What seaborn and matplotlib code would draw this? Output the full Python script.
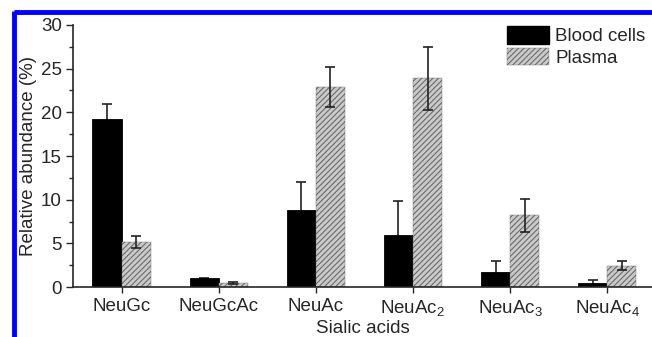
import numpy as np
import pandas as pd
import matplotlib
matplotlib.use("Agg")
import matplotlib.pyplot as plt
from matplotlib.lines import Line2D
from matplotlib.ticker import MultipleLocator
import seaborn as sns

categories = ["NeuGc", "NeuGcAc", "NeuAc", "NeuAc$_2$", "NeuAc$_3$", "NeuAc$_4$"]
blood_cells = [19.2, 1.0, 8.8, 6.0, 1.75, 0.5]
blood_cells_err = [1.8, 0.1, 3.2, 3.9, 1.2, 0.3]
plasma = [5.2, 0.5, 22.9, 23.9, 8.2, 2.45]
plasma_err = [0.7, 0.1, 2.3, 3.6, 1.9, 0.5]
groups = ["Blood cells", "Plasma"]

df = pd.DataFrame({
    "acid": categories * 2,
    "group": [groups[0]] * len(categories) + [groups[1]] * len(categories),
    "value": blood_cells + plasma,
})

sns.set_style("ticks")
plt.rcParams["font.family"] = ["Liberation Sans", "DejaVu Sans"]
plt.rcParams["mathtext.fontset"] = "custom"
plt.rcParams["mathtext.rm"] = "Liberation Sans"
plt.rcParams["mathtext.it"] = "Liberation Sans"
plt.rcParams["hatch.linewidth"] = 0.8

FS = 13.5
fill_gray = "#cacaca"
hatch_gray = "#6a6a6a"
text_color = "#262626"

fig = plt.figure(figsize=(6.52, 3.37), dpi=100)
ax = fig.add_axes([0.112, 0.148, 0.888, 0.778])

sns.barplot(data=df, x="acid", y="value", hue="group", hue_order=groups,
            order=categories, palette=["black", fill_gray], width=0.6,
            gap=0, errorbar=None, ax=ax, legend=False, linewidth=0.6,
            edgecolor="black", zorder=2)

n = len(categories)
for i, p in enumerate(ax.patches[:2 * n]):
    if i >= n:
        p.set_hatch("//////")
        p.set_edgecolor(hatch_gray)
        p.set_facecolor(fill_gray)
        p.set_linewidth(0.3)

# error bars centred on each bar; the blood-cell ones sit behind the bars
for k, (vals, errs, z) in enumerate([(blood_cells, blood_cells_err, 1),
                                     (plasma, plasma_err, 5)]):
    bars = ax.patches[k * n:(k + 1) * n]
    xs = [b.get_x() + b.get_width() / 2 for b in bars]
    ax.errorbar(xs, vals, yerr=errs, fmt="none", ecolor="#222222",
                elinewidth=1.2, capsize=3.5, capthick=1.2, zorder=z)

ax.set_ylim(0, 30)
ax.set_xlim(-0.5, 5.46)
ax.yaxis.set_major_locator(MultipleLocator(5))
ax.yaxis.set_minor_locator(MultipleLocator(2.5))
ax.tick_params(axis="y", which="major", length=5, width=1, colors=text_color,
               labelsize=FS, direction="out", pad=3)
ax.tick_params(axis="y", which="minor", length=3, width=1, color=text_color)
ax.tick_params(axis="x", length=4, width=1, colors=text_color, labelsize=FS,
               pad=4)
for side in ["top", "right"]:
    ax.spines[side].set_visible(False)
for side in ["left", "bottom"]:
    ax.spines[side].set_linewidth(1.2)
    ax.spines[side].set_color(text_color)

ax.set_xlabel("Sialic acids", fontsize=FS, color=text_color, labelpad=1.5)
ax.set_ylabel("Relative abundance (%)", fontsize=FS, color=text_color, labelpad=3)

handles = [plt.Rectangle((0, 0), 1, 1, facecolor="black", edgecolor="black"),
           plt.Rectangle((0, 0), 1, 1, facecolor=fill_gray, edgecolor=hatch_gray,
                         hatch="//////", linewidth=0.3)]
leg = ax.legend(handles, groups, loc="upper left", bbox_to_anchor=(0.75, 0.995),
                frameon=False, fontsize=FS, handlelength=2.25, handleheight=1.05,
                labelspacing=0.12, handletextpad=0.3, borderpad=0, borderaxespad=0)
for t in leg.get_texts():
    t.set_color(text_color)

# blue frame along top and left edges
fig.add_artist(Line2D([0.0215, 1.0], [0.963, 0.963], transform=fig.transFigure,
                      color="#0000ff", linewidth=3.5, solid_capstyle="butt"))
fig.add_artist(Line2D([0.0215, 0.0215], [0.0, 0.968], transform=fig.transFigure,
                      color="#0000ff", linewidth=3.5, solid_capstyle="butt"))

fig.savefig("out.png", dpi=100)
